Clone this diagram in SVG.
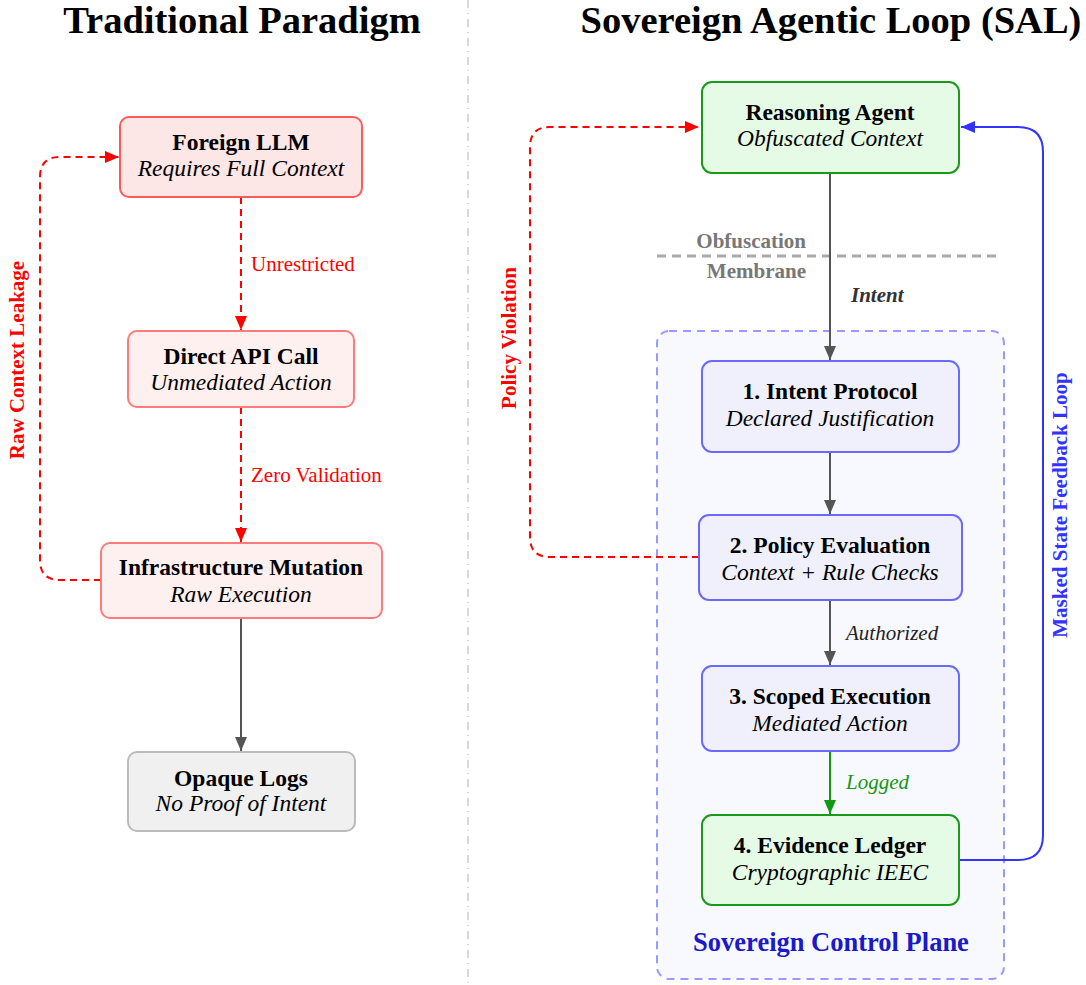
<svg xmlns="http://www.w3.org/2000/svg" width="1086" height="985" viewBox="0 0 1086 985">
<style>
text{font-family:"Liberation Serif","Times New Roman",serif}
.title{font-size:38.5px;font-weight:bold;text-anchor:middle;fill:#000}
.nt{font-size:23.5px;font-weight:bold;text-anchor:middle;fill:#000}
.ns{font-size:23.5px;font-style:italic;text-anchor:middle;fill:#000}
.el{font-size:21px}
.red{fill:#ff0000}
.pink1{fill:#fde6e6;stroke:#ff5a5a;stroke-width:2}
.pink2{fill:#fff0f0;stroke:#ff7a7a;stroke-width:2}
.grey{fill:#f0f0f0;stroke:#bbbbbb;stroke-width:2}
.green{fill:#e6fbe6;stroke:#1a9a1a;stroke-width:2}
.blue{fill:#eff0fc;stroke:#6a6aff;stroke-width:2}
.c-red{fill:none;stroke:#ff0000;stroke-width:2;stroke-dasharray:7,5}
.c-grey{fill:none;stroke:#555555;stroke-width:2}
.c-green{fill:none;stroke:#119911;stroke-width:2}
.c-blue{fill:none;stroke:#3333ff;stroke-width:2}
</style>
<defs>
<marker id="ar" markerWidth="14" markerHeight="12" refX="14" refY="6" orient="auto" markerUnits="userSpaceOnUse"><path d="M0,0 L14,6 L0,12 z" fill="#ff0000"/></marker>
<marker id="ag" markerWidth="14" markerHeight="12" refX="14" refY="6" orient="auto" markerUnits="userSpaceOnUse"><path d="M0,0 L14,6 L0,12 z" fill="#555555"/></marker>
<marker id="agr" markerWidth="14" markerHeight="12" refX="14" refY="6" orient="auto" markerUnits="userSpaceOnUse"><path d="M0,0 L14,6 L0,12 z" fill="#119911"/></marker>
<marker id="ab" markerWidth="14" markerHeight="12" refX="14" refY="6" orient="auto" markerUnits="userSpaceOnUse"><path d="M0,0 L14,6 L0,12 z" fill="#3333ff"/></marker>
</defs>
<rect width="1086" height="985" fill="#ffffff"/>

<line x1="468" y1="0" x2="468" y2="985" stroke="#cccccc" stroke-width="1.5" stroke-dasharray="8,5,1,5"/>

<text class="title" x="242" y="33">Traditional Paradigm</text>
<text class="title" x="831" y="33">Sovereign Agentic Loop (SAL)</text>

<g id="control-plane">
<rect x="657" y="331" width="347" height="648" rx="12" fill="#f8f8ff" stroke="#9999ff" stroke-width="2" stroke-dasharray="8,6"/>
<text x="831" y="951" font-size="26.5" font-weight="bold" text-anchor="middle" fill="#1a1acc">Sovereign Control Plane</text>
</g>

<g id="membrane">
<line x1="657" y1="256" x2="1000" y2="256" stroke="#aaaaaa" stroke-width="3" stroke-dasharray="9,6"/>
<text x="806" y="248" font-size="21" font-weight="bold" text-anchor="end" fill="#777777">Obfuscation</text>
<text x="806" y="278" font-size="21" font-weight="bold" text-anchor="end" fill="#777777">Membrane</text>
</g>

<g id="connectors">
<line class="c-red" x1="241" y1="197" x2="241" y2="330" marker-end="url(#ar)"/>
<text class="el red" x="251" y="271">Unrestricted</text>
<line class="c-red" x1="241" y1="407" x2="241" y2="542" marker-end="url(#ar)"/>
<text class="el red" x="251" y="482">Zero Validation</text>
<line class="c-grey" x1="241" y1="618" x2="241" y2="751" marker-end="url(#ag)"/>
<path class="c-red" d="M101,580 L60,580 Q40,580 40,560 L40,177 Q40,157 60,157 L119,157" marker-end="url(#ar)"/>
<text x="24" y="360" font-size="21" font-weight="bold" fill="#ff0000" text-anchor="middle" transform="rotate(-90 24 360)">Raw Context Leakage</text>

<line class="c-grey" x1="830" y1="173" x2="830" y2="360" marker-end="url(#ag)"/>
<text x="851" y="302" font-size="21" font-weight="bold" font-style="italic" fill="#333333">Intent</text>
<line class="c-grey" x1="830" y1="452" x2="830" y2="514" marker-end="url(#ag)"/>
<line class="c-grey" x1="830" y1="600" x2="830" y2="665" marker-end="url(#ag)"/>
<text x="846" y="640" font-size="21" font-style="italic" fill="#222222">Authorized</text>
<line class="c-green" x1="830" y1="751" x2="830" y2="814" marker-end="url(#agr)"/>
<text x="846" y="789" font-size="21" font-style="italic" fill="#119911">Logged</text>

<path class="c-red" d="M699,557 L550,557 Q530,557 530,537 L530,147 Q530,127 550,127 L699,127" marker-end="url(#ar)"/>
<text x="516" y="338" font-size="21" font-weight="bold" fill="#ff0000" text-anchor="middle" transform="rotate(-90 516 338)">Policy Violation</text>

<path class="c-blue" d="M959,860 L1018,860 Q1043,860 1043,835 L1043,152 Q1043,127 1018,127 L961,127" marker-end="url(#ab)"/>
<text x="1067" y="505" font-size="21" font-weight="bold" fill="#3333ff" text-anchor="middle" transform="rotate(-90 1067 505)">Masked State Feedback Loop</text>
</g>

<g id="foreign-llm">
<rect class="pink1" x="120" y="117" width="242" height="80" rx="9"/>
<text class="nt" x="241" y="150">Foreign LLM</text>
<text class="ns" x="241" y="176">Requires Full Context</text>
</g>
<g id="direct-api-call">
<rect class="pink2" x="128" y="331" width="226" height="76" rx="9"/>
<text class="nt" x="241" y="364">Direct API Call</text>
<text class="ns" x="241" y="390">Unmediated Action</text>
</g>
<g id="infrastructure-mutation">
<rect class="pink2" x="101" y="543" width="281" height="75" rx="9"/>
<text class="nt" x="241" y="575">Infrastructure Mutation</text>
<text class="ns" x="241" y="602">Raw Execution</text>
</g>
<g id="opaque-logs">
<rect class="grey" x="128" y="752" width="227" height="79" rx="9"/>
<text class="nt" x="241" y="786">Opaque Logs</text>
<text class="ns" x="241" y="811">No Proof of Intent</text>
</g>

<g id="reasoning-agent">
<rect class="green" x="702" y="82" width="257" height="91" rx="10"/>
<text class="nt" x="830" y="120">Reasoning Agent</text>
<text class="ns" x="830" y="146">Obfuscated Context</text>
</g>
<g id="intent-protocol">
<rect class="blue" x="702" y="361" width="257" height="91" rx="10"/>
<text class="nt" x="830" y="399">1. Intent Protocol</text>
<text class="ns" x="830" y="426">Declared Justification</text>
</g>
<g id="policy-evaluation">
<rect class="blue" x="699" y="515" width="263" height="85" rx="10"/>
<text class="nt" x="830" y="553">2. Policy Evaluation</text>
<text class="ns" x="830" y="580">Context + Rule Checks</text>
</g>
<g id="scoped-execution">
<rect class="blue" x="702" y="666" width="257" height="85" rx="10"/>
<text class="nt" x="830" y="704">3. Scoped Execution</text>
<text class="ns" x="830" y="731">Mediated Action</text>
</g>
<g id="evidence-ledger">
<rect class="green" x="702" y="815" width="257" height="90" rx="10"/>
<text class="nt" x="830" y="853">4. Evidence Ledger</text>
<text class="ns" x="830" y="880">Cryptographic IEEC</text>
</g>
</svg>
